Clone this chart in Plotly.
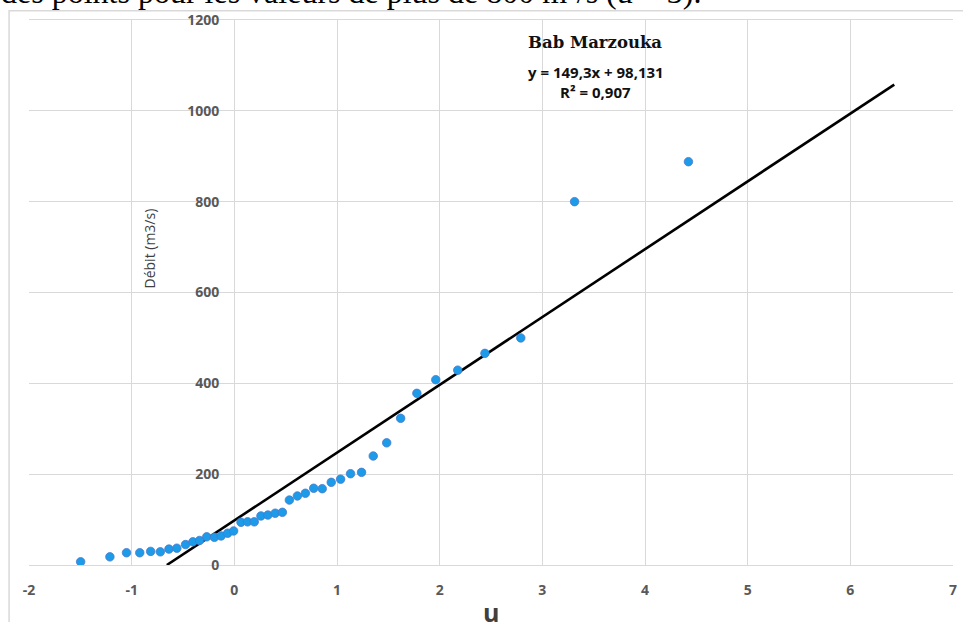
import plotly.graph_objects as go

# Data (reduced Gumbel variable u vs discharge)
u_values = [-1.497, -1.212, -1.050, -0.921, -0.815, -0.721, -0.637, -0.560, -0.475, -0.404,
            -0.339, -0.269, -0.194, -0.129, -0.065, -0.007, 0.065, 0.129, 0.194, 0.259,
            0.327, 0.398, 0.468, 0.536, 0.614, 0.692, 0.773, 0.856, 0.944, 1.035,
            1.132, 1.239, 1.353, 1.484, 1.620, 1.778, 1.962, 2.176, 2.441, 2.790,
            3.314, 4.423]
debit_values = [7, 18, 27, 27, 30, 29, 35, 37, 45, 51,
                54, 62, 61, 64, 70, 75, 94, 95, 95, 108,
                110, 114, 116, 143, 152, 158, 169, 168, 182, 189,
                201, 204, 240, 269, 323, 378, 408, 429, 466, 500,
                800, 888]

slope = 149.3
intercept = 98.131
trend_x = [-intercept / slope, 6.428]
trend_y = [slope * x + intercept for x in trend_x]

x_ticks = [-2, -1, 0, 1, 2, 3, 4, 5, 6, 7]
y_ticks = [0, 200, 400, 600, 800, 1000, 1200]

title_text = "Bab Marzouka"
equation_text = "y = 149,3x + 98,131"
r2_text = "R² = 0,907"
x_title = "u"
y_title = "Débit (m3/s)"
doc_text = "des points pour les valeurs de plus de 800 m³/s (u > 3)."

W, H = 963, 622
L, R, T, B = 29, 6, 20, 57
PW, PH = W - L - R, H - T - B


def px(xpix):
    return (xpix - L) / PW


def py(ypix):
    return (H - B - ypix) / PH


fig = go.Figure()

fig.add_trace(go.Scatter(
    x=trend_x, y=trend_y, mode="lines",
    line=dict(color="black", width=2.6),
    hoverinfo="skip", showlegend=False,
))

fig.add_trace(go.Scatter(
    x=u_values, y=debit_values, mode="markers",
    marker=dict(size=8.5, color="#1c9be9", line=dict(color="#4a78cc", width=0.8)),
    showlegend=False,
))

tickfont = dict(family="Open Sans", size=14, color="#595959", weight="bold")

fig.update_layout(
    width=W, height=H,
    margin=dict(l=L, r=R, t=T, b=B, pad=0),
    paper_bgcolor="white", plot_bgcolor="white",
    xaxis=dict(
        range=[-2, 7], tickvals=x_ticks, ticktext=[str(v) for v in x_ticks],
        showgrid=True, gridcolor="#d9d9d9", gridwidth=1,
        zeroline=False, showline=True, linecolor="#d9d9d9", linewidth=1, mirror=True,
        ticks="", tickfont=tickfont, ticklabelstandoff=12,
    ),
    yaxis=dict(
        range=[0, 1200], tickvals=y_ticks, ticktext=[str(v) for v in y_ticks],
        showgrid=True, gridcolor="#d9d9d9", gridwidth=1,
        zeroline=False, showline=False,
        anchor="free", position=2 / 9,
        ticks="", tickfont=tickfont, ticklabelstandoff=15,
    ),
    font=dict(family="Open Sans"),
    shapes=[
        dict(type="rect", xref="paper", yref="paper",
             x0=px(9), x1=px(W + 20), y0=py(H + 20), y1=py(10.7),
             line=dict(color="#d9d9d9", width=1.5), fillcolor="rgba(0,0,0,0)", layer="below"),
    ],
    annotations=[
        dict(text=title_text, xref="paper", yref="paper", x=px(597), y=py(43),
             showarrow=False, xanchor="center", yanchor="middle",
             font=dict(family="DejaVu Serif", size=16.5, color="#111111", weight="bold")),
        dict(text=equation_text, xref="paper", yref="paper", x=px(598), y=py(72),
             showarrow=False, xanchor="center", yanchor="middle",
             font=dict(family="Open Sans", size=15, color="#111111", weight="bold")),
        dict(text=r2_text, xref="paper", yref="paper", x=px(598), y=py(92),
             showarrow=False, xanchor="center", yanchor="middle",
             font=dict(family="Open Sans", size=15, color="#111111", weight="bold")),
        dict(text=y_title, xref="paper", yref="paper", x=px(150), y=py(248),
             showarrow=False, xanchor="center", yanchor="middle", textangle=-90,
             font=dict(family="Open Sans", size=14, color="#404040")),
        dict(text=x_title, xref="paper", yref="paper", x=px(493), y=py(612),
             showarrow=False, xanchor="center", yanchor="middle",
             font=dict(family="Open Sans", size=25, color="#404040", weight="bold")),
        dict(text=doc_text, xref="paper", yref="paper", x=px(-1), y=py(12),
             showarrow=False, xanchor="left", yanchor="bottom",
             font=dict(family="Liberation Serif", size=32, color="#000000")),
    ],
)

fig.write_html(
    "out.html",
    config={"displayModeBar": False},
    post_script="document.body.style.margin='0px';document.body.style.overflow='hidden';",
)
